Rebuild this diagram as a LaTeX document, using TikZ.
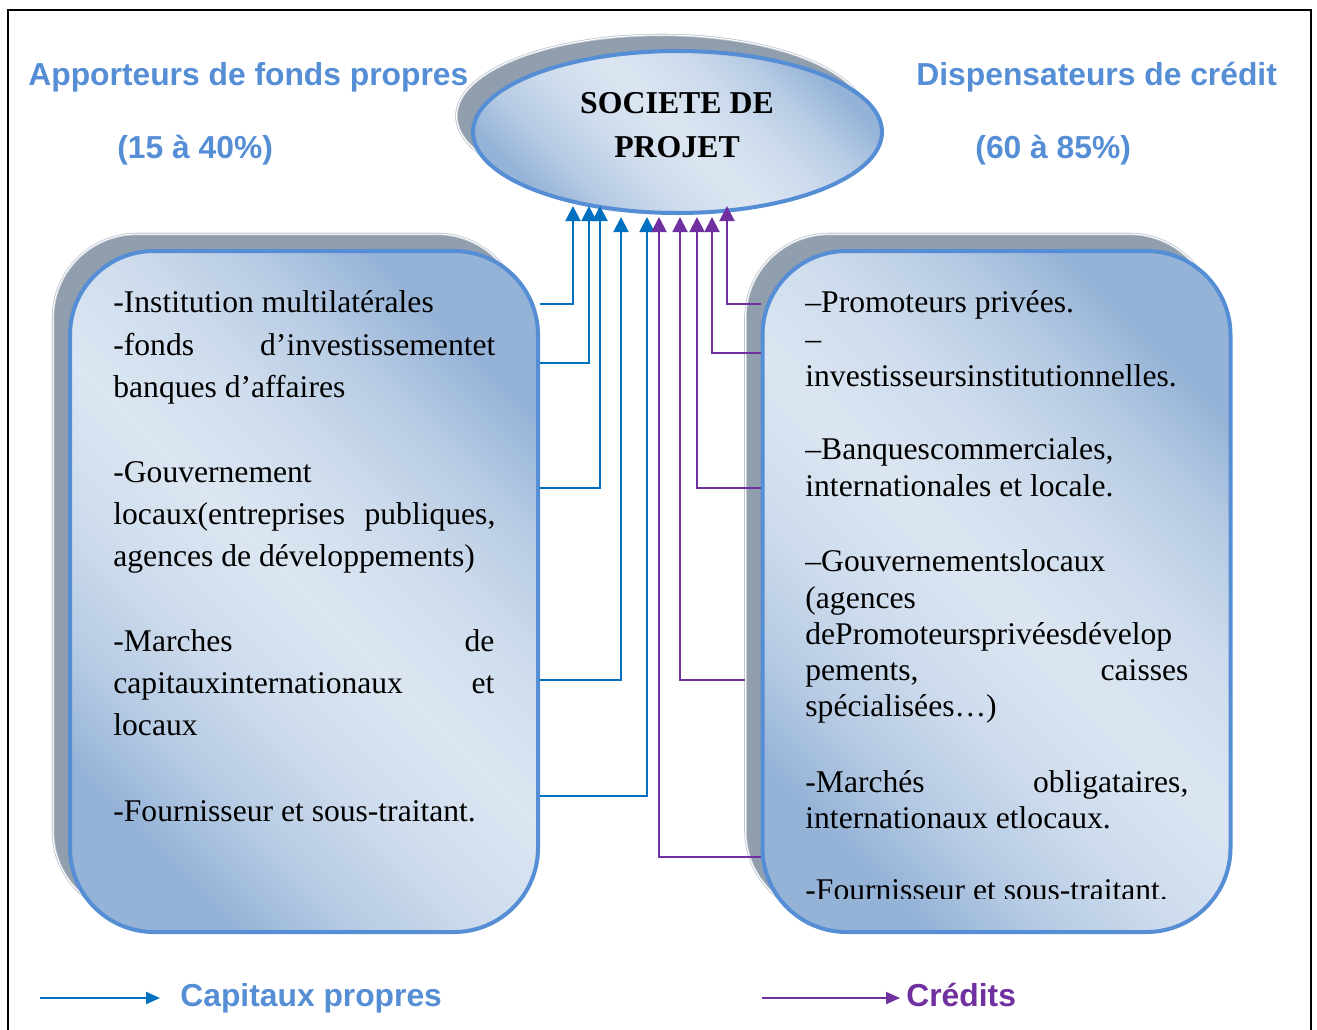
\documentclass[tikz,border=0pt]{standalone}
\usepackage{fontspec}
\setmainfont{Liberation Serif}
\newfontfamily\arialf{Liberation Sans}
\usetikzlibrary{shapes.geometric,arrows.meta}
\definecolor{hblue}{HTML}{558ED5}
\definecolor{cblue}{HTML}{0070C0}
\definecolor{cpurp}{HTML}{7030A0}
\definecolor{shgray}{HTML}{919EAE}
\definecolor{gdark}{HTML}{95B3D7}
\definecolor{glight}{HTML}{DCE6F2}
\colorlet{gmida}{gdark!55!glight}
\colorlet{gmidb}{gdark!22!glight}
\pgfdeclareverticalshading{boxshade}{100bp}{color(0bp)=(gdark); color(25bp)=(gdark); color(32bp)=(gmida); color(40bp)=(gmidb); color(50bp)=(glight); color(60bp)=(gmidb); color(68bp)=(gmida); color(75bp)=(gdark); color(100bp)=(gdark)}
\begin{document}
\begin{tikzpicture}[x=0.5pt,y=-0.5pt,
  shadowsty/.style={fill=shgray, draw=shgray!60, double=white, double distance=0.5pt, line width=0.4pt},
  mainsty/.style={draw=hblue, line width=2pt, shading=boxshade, shading angle=-45},
  boxsty/.style={rectangle, rounded corners=42pt, minimum width=234pt, minimum height=340.5pt, inner sep=0},
  ellsty/.style={ellipse, minimum width=204.5pt, minimum height=81pt, inner sep=0},
  bodytxt/.style={inner sep=0, anchor=base west, font=\fontsize{15.8}{19}\selectfont},
  titletxt/.style={inner sep=0, anchor=base, font=\bfseries\fontsize{15.9}{19}\selectfont},
  headtxt/.style={inner sep=0, anchor=base west, font=\arialf\bfseries\fontsize{15.9}{19}\selectfont, text=hblue},
  capl/.style={draw=cblue, line width=1pt, -{Triangle[width=7.5pt,length=7.5pt]}},
  credl/.style={draw=cpurp, line width=1pt, -{Triangle[width=7.5pt,length=7.5pt]}},
]
\useasboundingbox (0,0) rectangle (1317,1029);
\draw[line width=1pt] (8,10) rectangle (1311,1045);

% boxes
\node[boxsty, shadowsty] (LS) at (287,574.5) {};
\node[boxsty, mainsty] (L) at (304,591.5) {};
\node[boxsty, shadowsty] (RS) at (979.5,574.5) {};
\node[boxsty, mainsty] (R) at (996.5,591.5) {};
\node[ellsty, shadowsty] (ES) at (661,116) {};
\node[ellsty, mainsty] (E) at (677.5,132) {};

\node[titletxt] (s1) at (677,113) {SOCIETE DE};
\node[titletxt] (s2) at (677,157) {PROJET};

% headings
\node[headtxt] (h1) at (28,85) {Apporteurs de fonds propres};
\node[headtxt] (h2) at (117,158) {(15 à 40\%)};
\node[headtxt] (h3) at (916,85) {Dispensateurs de crédit};
\node[headtxt] (h4) at (975,158) {(60 à 85\%)};

% left text
\node[bodytxt] (l1) at (113,312) {-Institution multilatérales};
\node[bodytxt] (l2) at (113,355) {\makebox[191pt][s]{-fonds d’investissementet}};
\node[bodytxt] (l3) at (113,397) {banques d’affaires};
\node[bodytxt] (l4) at (113,482) {-Gouvernement};
\node[bodytxt] (l5) at (113,524) {\makebox[191pt][s]{locaux(entreprises publiques,}};
\node[bodytxt] (l6) at (113,566) {agences de développements)};
\node[bodytxt] (l7) at (113,651.5) {\makebox[190.5pt][s]{-Marches de}};
\node[bodytxt] (l8) at (113,693.5) {\makebox[190.5pt][s]{capitauxinternationaux et}};
\node[bodytxt] (l9) at (113,735.5) {locaux};
\node[bodytxt] (l10) at (113,821.5) {-Fournisseur et sous-traitant.};

% right text
\node[bodytxt] (r1) at (805,312) {–Promoteurs privées.};
\node[bodytxt] (r2) at (805,349) {–};
\node[bodytxt] (r3) at (805,386) {investisseursinstitutionnelles.};
\node[bodytxt] (r4) at (805,459) {–Banquescommerciales,};
\node[bodytxt] (r5) at (805,496) {internationales et locale.};
\node[bodytxt] (r6) at (805,571.7) {–Gouvernementslocaux};
\node[bodytxt] (r7) at (805,608) {(agences};
\node[bodytxt] (r8) at (805,644.3) {dePromoteursprivéesdévelop};
\node[bodytxt] (r9) at (805,680.6) {\makebox[191.5pt][s]{pements, caisses}};
\node[bodytxt] (r10) at (805,716.9) {spécialisées…)};
\node[bodytxt] (r11) at (805,792) {\makebox[191.5pt][s]{-Marchés obligataires,}};
\node[bodytxt] (r12) at (805,828) {internationaux etlocaux.};
\begin{scope}
\clip (790,850) rectangle (1220,898);
\node[bodytxt] (r13) at (805,900.5) {-Fournisseur et sous-traitant.};
\end{scope}

% connectors
\draw[capl] (L.east |- 0,304) -| (573,206);
\draw[capl] (L.east |- 0,363) -| (589,206);
\draw[capl] (L.east |- 0,488) -| (600,206);
\draw[capl] (L.east |- 0,680) -| (621,217);
\draw[capl] (L.east |- 0,796) -| (647,217);
\draw[credl] (R.west |- 0,857) -| (659,217);
\draw[credl] (RS.west |- 0,680) -| (680,217);
\draw[credl] (R.west |- 0,488) -| (697,217);
\draw[credl] (R.west |- 0,353) -| (712,217);
\draw[credl] (R.west |- 0,304) -| (727,206);

% legend
\coordinate (lb1) at (40,998);
\coordinate (lb2) at (160,998);
\coordinate (lp1) at (762,998);
\coordinate (lp2) at (900,998);
\draw[draw=cblue, line width=1pt, -{Triangle[width=6pt,length=7pt]}] (lb1) -- (lb2);
\node[headtxt] (lg1) at (180,1006) {Capitaux propres};
\draw[draw=cpurp, line width=1pt, -{Triangle[width=6pt,length=7pt]}] (lp1) -- (lp2);
\node[headtxt, text=cpurp] (lg2) at (906,1006) {Crédits};
\end{tikzpicture}
\end{document}
